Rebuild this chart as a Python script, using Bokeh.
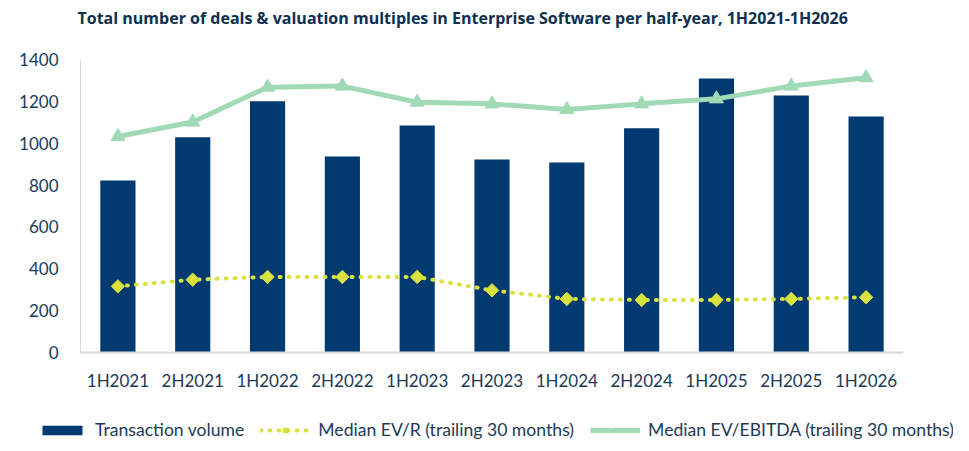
import math
from bokeh.plotting import figure
from bokeh.layouts import column
from bokeh.models import (ColumnDataSource, FactorRange, Range1d, Legend, LegendItem,
                          FixedTicker, Label)
from bokeh.embed import file_html
from bokeh.resources import INLINE

# ---- data ----
periods = ["1H2021", "2H2021", "1H2022", "2H2022", "1H2023", "2H2023",
           "1H2024", "2H2024", "1H2025", "2H2025", "1H2026"]
transaction_volume = [822, 1028, 1200, 937, 1085, 922, 908, 1071, 1309, 1228, 1128]
median_ev_r = [316, 348, 361, 361, 361, 297, 256, 251, 251, 256, 264]
median_ev_ebitda = [1032, 1101, 1268, 1273, 1196, 1188, 1161, 1188, 1212, 1273, 1313]
y_ticks = [0, 200, 400, 600, 800, 1000, 1200, 1400]
series_names = ["Transaction volume", "Median EV/R (trailing 30 months)",
                "Median EV/EBITDA (trailing 30 months)"]

title_text = ("Total number of deals & valuation multiples in Enterprise Software "
              "per half-year, 1H2021-1H2026")

NAVY = "#003a70"
GREEN = "#a0dab5"
YELLOW = "#d9e23e"
TEXT = "#1c3a57"
FONT = "Lato"

src = ColumnDataSource(dict(period=periods, vol=transaction_volume,
                            evr=median_ev_r, eve=median_ev_ebitda))


def draw_series(fig, source):
    b = fig.vbar(x="period", top="vol", width=0.47, source=source,
                 fill_color=NAVY, line_color=None)
    l1 = fig.line(x="period", y="evr", source=source, line_color=YELLOW,
                  line_width=4, line_dash="1 8", line_cap="round")
    m1 = fig.scatter(x="period", y="evr", source=source, marker="square",
                     angle=math.pi / 4, size=9.5, fill_color=YELLOW, line_color=YELLOW)
    l2 = fig.line(x="period", y="eve", source=source, line_color=GREEN, line_width=5)
    m2 = fig.scatter(x="period", y="eve", source=source, marker="triangle",
                     size=14, fill_color=GREEN, line_color=GREEN)
    return b, l1, m1, l2, m2


def bare(fig):
    fig.axis.visible = False
    fig.grid.visible = False
    fig.outline_line_color = None
    fig.frame_align = False
    return fig


# ---- title strip ----
t = bare(figure(x_range=Range1d(0, 1), y_range=Range1d(0, 1), width=953, height=30,
                output_backend="svg", toolbar_location=None,
                min_border_left=0, min_border_right=0, min_border_top=0,
                min_border_bottom=0))
t.add_layout(Label(x=77, y=13, x_units="screen", y_units="screen", text=title_text,
                   text_font="Open Sans", text_font_size="16px", text_font_style="bold",
                   text_color="#0d2f50", text_baseline="middle", text_align="left"))

# ---- main chart ----
p = figure(x_range=FactorRange(*periods, range_padding=0),
           y_range=Range1d(0, 1400),
           width=953, height=380,
           output_backend="svg", toolbar_location=None,
           min_border_left=80, min_border_right=50,
           min_border_top=29, min_border_bottom=58)

draw_series(p, src)

p.xgrid.visible = False
p.ygrid.visible = False
p.outline_line_color = None
p.background_fill_color = "white"
p.border_fill_color = "white"

for ax in (p.xaxis[0], p.yaxis[0]):
    ax.major_tick_line_color = None
    ax.minor_tick_line_color = None
    ax.major_label_text_font = FONT
    ax.major_label_text_font_size = "17px"
    ax.major_label_text_color = TEXT
    ax.axis_line_color = "#d9d9d9"

p.xaxis[0].axis_line_width = 2
p.xaxis[0].major_label_standoff = 11
p.yaxis[0].axis_line_width = 1
p.yaxis[0].ticker = FixedTicker(ticks=y_ticks)
p.yaxis[0].major_label_standoff = 16

# ---- legend strip: same series, drawn outside its visible y-range ----
lg = bare(figure(x_range=FactorRange(*periods, range_padding=0),
                 y_range=Range1d(2000, 3000),
                 width=953, height=33, output_backend="svg", toolbar_location=None,
                 min_border_left=0, min_border_right=0, min_border_top=0,
                 min_border_bottom=0))
b, l1, m1, l2, m2 = draw_series(lg, src)

legend = Legend(items=[
    LegendItem(label=series_names[0], renderers=[b]),
    LegendItem(label=series_names[1], renderers=[l1, m1]),
    LegendItem(label=series_names[2], renderers=[l2, m2]),
], orientation="horizontal", location=(37, 3),
    padding=0, margin=0, border_line_alpha=0, background_fill_alpha=0,
    glyph_width=50, glyph_height=12, label_standoff=8, spacing=16,
    label_text_font=FONT, label_text_font_size="17.6px", label_text_color=TEXT)
lg.add_layout(legend, "center")

layout = column(t, p, lg, spacing=0)
open("out.html", "w").write(file_html(layout, INLINE))
